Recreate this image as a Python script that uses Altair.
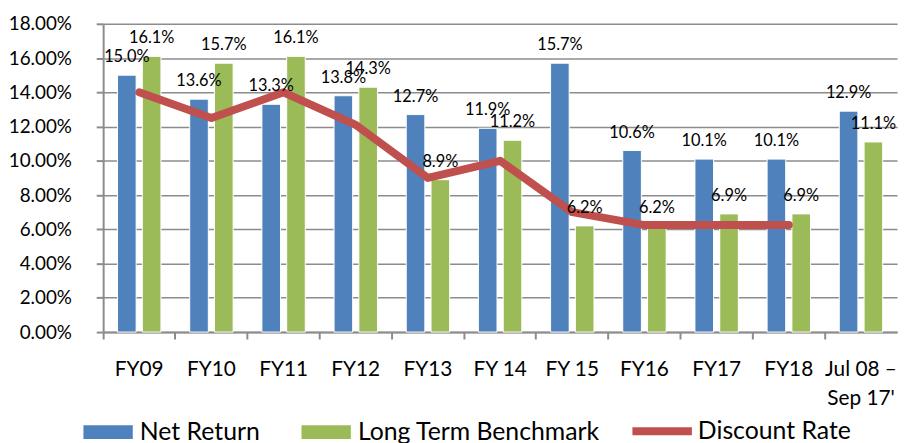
import altair as alt
import pandas as pd

categories = ["FY09", "FY10", "FY11", "FY12", "FY13", "FY 14", "FY 15", "FY16", "FY17", "FY18", "Jul 08 – Sep 17'"]
net_return = [15.0, 13.6, 13.3, 13.8, 12.7, 11.9, 15.7, 10.6, 10.1, 10.1, 12.9]
benchmark = [16.1, 15.7, 16.1, 14.3, 8.9, 11.2, 6.2, 6.2, 6.9, 6.9, 11.1]
discount_rate = [14.0, 12.5, 14.0, 12.1, 9.0, 10.0, 7.0, 6.25, 6.25, 6.25, None]
y_ticks = [0, 2, 4, 6, 8, 10, 12, 14, 16, 18]

bar_series = ["Net Return", "Long Term Benchmark"]
bar_colors = ["#4F81BD", "#9BBB59"]
line_series = ["Discount Rate"]
line_colors = ["#C0504D"]

FONT = "Lato"
GRAY = "#8C8C8C"

bars_df = pd.DataFrame(
    [{"category": c, "series": bar_series[0], "value": v} for c, v in zip(categories, net_return)]
    + [{"category": c, "series": bar_series[1], "value": v} for c, v in zip(categories, benchmark)]
)
bars_df["label"] = bars_df["value"].map(lambda v: f"{v:.1f}%")
line_df = pd.DataFrame({"category": categories, "rate": discount_rate, "series": line_series[0]})

x_label_expr = 'indexof(datum.label, "Jul") == 0 ? ["Jul 08 –", "Sep 17\'"] : datum.label'

x_axis = alt.Axis(
    title=None, labelAngle=0, labelFont=FONT, labelFontSize=21, labelColor="black",
    bandPosition=0, tickSize=7, tickColor=GRAY, tickWidth=2,
    domainColor=GRAY, domainWidth=2, labelPadding=20, labelLineHeight=29,
    labelExpr=x_label_expr, grid=False, labelOverlap=False,
)
x_scale = alt.Scale(paddingInner=0, paddingOuter=0)
x_enc = alt.X("category:N", sort=categories, scale=x_scale, axis=x_axis)
xoff_enc = alt.XOffset(
    "series:N", sort=bar_series,
    scale=alt.Scale(paddingInner=0.25, paddingOuter=0.58),
)
y_scale = alt.Scale(domain=[0, 18], nice=False)
y_axis = alt.Axis(
    title=None, values=y_ticks, labelExpr="format(datum.value, '.2f') + '%'",
    labelFont=FONT, labelFontSize=19, labelColor="black", tickSize=7, tickColor=GRAY,
    tickWidth=2, domainColor=GRAY, domainWidth=2, labelPadding=25,
    grid=True, gridColor=GRAY, gridWidth=1.5, labelOverlap=False,
)

rect_path = "M-0.83,-0.23L0.83,-0.23L0.83,0.23L-0.83,0.23Z"
common_legend = dict(
    title=None, orient="none", direction="horizontal", symbolSize=3600,
    labelFont=FONT, labelFontSize=25, labelFontWeight="normal", labelColor="black",
    labelOffset=2, labelLimit=400,
)

bars = alt.Chart(bars_df).mark_bar(stroke="white", strokeWidth=1).encode(
    x=x_enc,
    xOffset=xoff_enc,
    y=alt.Y("value:Q", scale=y_scale, axis=y_axis),
    fill=alt.Fill(
        "series:N",
        scale=alt.Scale(domain=bar_series, range=bar_colors),
        legend=alt.Legend(legendX=-25, legendY=382, columns=2, columnPadding=36,
                          symbolType=rect_path, symbolStrokeWidth=0, **common_legend),
    ),
)

labels = alt.Chart(bars_df).mark_text(
    font=FONT, fontSize=16.5, color="black", dy=-18, baseline="middle"
).encode(
    x=x_enc,
    xOffset=xoff_enc,
    y=alt.Y("value:Q", scale=y_scale, axis=y_axis),
    text="label:N",
)

line = alt.Chart(line_df).mark_line(
    strokeWidth=8, strokeCap="round", strokeJoin="round"
).encode(
    x=x_enc,
    y=alt.Y("rate:Q", scale=y_scale, axis=y_axis),
    stroke=alt.Stroke(
        "series:N",
        scale=alt.Scale(domain=line_series, range=line_colors),
        legend=alt.Legend(legendX=530, legendY=377, symbolType="stroke",
                          symbolStrokeWidth=8, **common_legend),
    ),
)

chart = alt.layer(bars, line, labels).resolve_legend(
    fill="independent", stroke="independent"
).properties(
    width=801,
    height=311,
    padding={"left": 96, "top": 14, "right": 8, "bottom": 113},
    autosize=alt.AutoSizeParams(type="none"),
).configure_view(stroke=None)

chart.save("out.html", embed_options={"renderer": "svg", "actions": False})
